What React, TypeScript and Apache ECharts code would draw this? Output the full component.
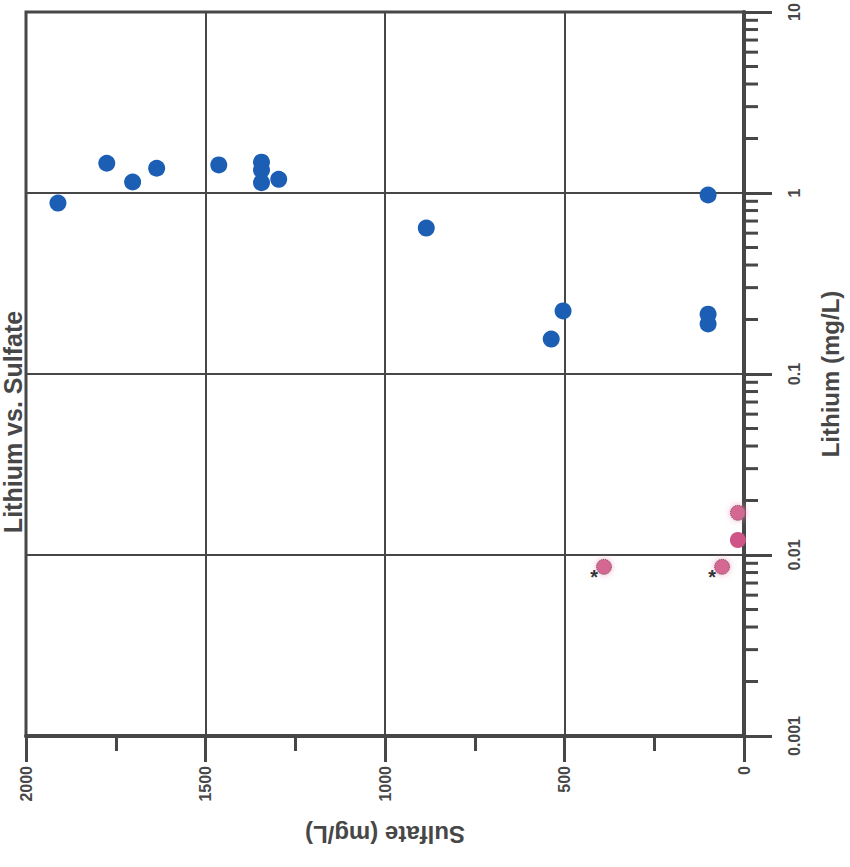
import React, { useEffect, useRef } from "react";
import * as echarts from "echarts";

const sulfateBlue = [1911, 1775, 1703, 1636, 1463, 1344, 1344, 1344, 1296, 885, 504, 537, 100, 100, 100];
const lithiumBlue = [0.88, 1.46, 1.15, 1.37, 1.43, 1.48, 1.34, 1.14, 1.19, 0.64, 0.223, 0.156, 0.975, 0.214, 0.189];

const sulfateFlagged = [17, 390, 61];
const lithiumFlagged = [0.0171, 0.0086, 0.0086];
const flaggedMark = ["", "*", "*"];

const sulfatePink = [17];
const lithiumPink = [0.0121];

const lithiumMinorTicks = [
  0.002, 0.003, 0.004, 0.005, 0.006, 0.007, 0.008, 0.009,
  0.02, 0.03, 0.04, 0.05, 0.06, 0.07, 0.08, 0.09,
  0.2, 0.3, 0.4, 0.5, 0.6, 0.7, 0.8, 0.9,
  2, 3, 4, 5, 6, 7, 8, 9,
];

const lithiumTickLabels: Record<string, string> = {
  "0.001": "0.001",
  "0.01": "0.01",
  "0.1": "0.1",
  "1": "1",
  "10": "10",
};

const INK = "#474747";
const FONT = '"Liberation Sans", Arial, sans-serif';

export default function App() {
  const ref = useRef<HTMLDivElement>(null);
  useEffect(() => {
    if (!ref.current) return;
    const chart = echarts.init(ref.current, undefined, { renderer: "svg" });
    chart.setOption({
      animation: false,
      backgroundColor: "#ffffff",
      grid: {
        left: 26,
        right: 105,
        top: 12,
        bottom: 131,
        show: true,
        borderColor: INK,
        borderWidth: 3,
      },
      graphic: [
        {
          type: "text",
          x: 25,
          y: 422,
          rotation: Math.PI / 2,
          style: {
            text: "Lithium vs. Sulfate",
            font: `bold 25px ${FONT}`,
            fill: INK,
            align: "center",
            verticalAlign: "bottom",
          },
        },
      ],
      xAxis: {
        type: "value",
        min: 0,
        max: 2000,
        interval: 500,
        inverse: true,
        position: "bottom",
        name: "Sulfate (mg/L)",
        nameLocation: "middle",
        nameRotate: 180,
        nameGap: 86,
        nameTextStyle: { fontFamily: FONT, fontWeight: "bold", fontSize: 24, color: INK },
        axisLine: { show: true, lineStyle: { color: INK, width: 4 } },
        axisTick: { show: true, length: 26, lineStyle: { color: INK, width: 3 } },
        minorTick: { show: true, splitNumber: 2, length: 15, lineStyle: { color: INK, width: 3 } },
        splitLine: { show: true, lineStyle: { color: INK, width: 2 } },
        axisLabel: {
          rotate: 90,
          margin: 30,
          fontFamily: FONT,
          fontWeight: "bold",
          fontSize: 16,
          color: INK,
          formatter: (v: number) => String(v),
        },
      },
      yAxis: {
        type: "log",
        logBase: 10,
        min: 0.001,
        max: 10,
        position: "right",
        name: "Lithium (mg/L)",
        nameLocation: "middle",
        nameRotate: 90,
        nameGap: 74,
        nameTextStyle: { fontFamily: FONT, fontWeight: "bold", fontSize: 24, color: INK },
        axisLine: { show: true, lineStyle: { color: INK, width: 4 } },
        axisTick: { show: true, length: 28, lineStyle: { color: INK, width: 3 } },
        splitLine: { show: true, lineStyle: { color: INK, width: 2 } },
        axisLabel: {
          rotate: 90,
          margin: 42,
          fontFamily: FONT,
          fontWeight: "bold",
          fontSize: 16,
          color: INK,
          formatter: (v: number) => {
            const key = String(Number(v.toPrecision(3)));
            return lithiumTickLabels[key] ?? key;
          },
        },
      },
      series: [
        {
          type: "custom",
          silent: true,
          clip: false,
          data: lithiumMinorTicks.map((v) => [0, v]),
          renderItem: (params: any, api: any) => {
            const p = api.coord([api.value(0), api.value(1)]);
            return {
              type: "line",
              shape: { x1: p[0], y1: p[1], x2: p[0] + 14, y2: p[1] },
              style: { stroke: INK, lineWidth: 3 },
            };
          },
        },
        {
          type: "scatter",
          symbol: "circle",
          symbolSize: 17,
          itemStyle: { color: "#1b5eb3", opacity: 1 },
          data: sulfateBlue.map((s, i) => [s, lithiumBlue[i]]),
          z: 5,
        },
        {
          type: "scatter",
          symbol: "circle",
          symbolSize: 15,
          itemStyle: {
            color: "#d46792",
            borderColor: "#5e4550",
            borderWidth: 1,
            borderType: "dotted",
            opacity: 1,
            shadowBlur: 6,
            shadowColor: "rgba(230,150,180,0.8)",
          },
          label: {
            show: true,
            position: "left",
            distance: -2,
            offset: [0, 10],
            formatter: (p: any) => flaggedMark[p.dataIndex],
            fontFamily: FONT,
            fontWeight: "bold",
            fontSize: 20,
            color: "#333",
          },
          data: sulfateFlagged.map((s, i) => [s, lithiumFlagged[i]]),
          z: 5,
        },
        {
          type: "scatter",
          symbol: "circle",
          symbolSize: 16,
          itemStyle: { color: "#cf5587", opacity: 1 },
          data: sulfatePink.map((s, i) => [s, lithiumPink[i]]),
          z: 5,
        },
      ],
    });
    return () => chart.dispose();
  }, []);
  return (
    <div
      ref={ref}
      style={{ position: "fixed", left: 0, top: 0, width: 850, height: 867, background: "#fff" }}
    />
  );
}
